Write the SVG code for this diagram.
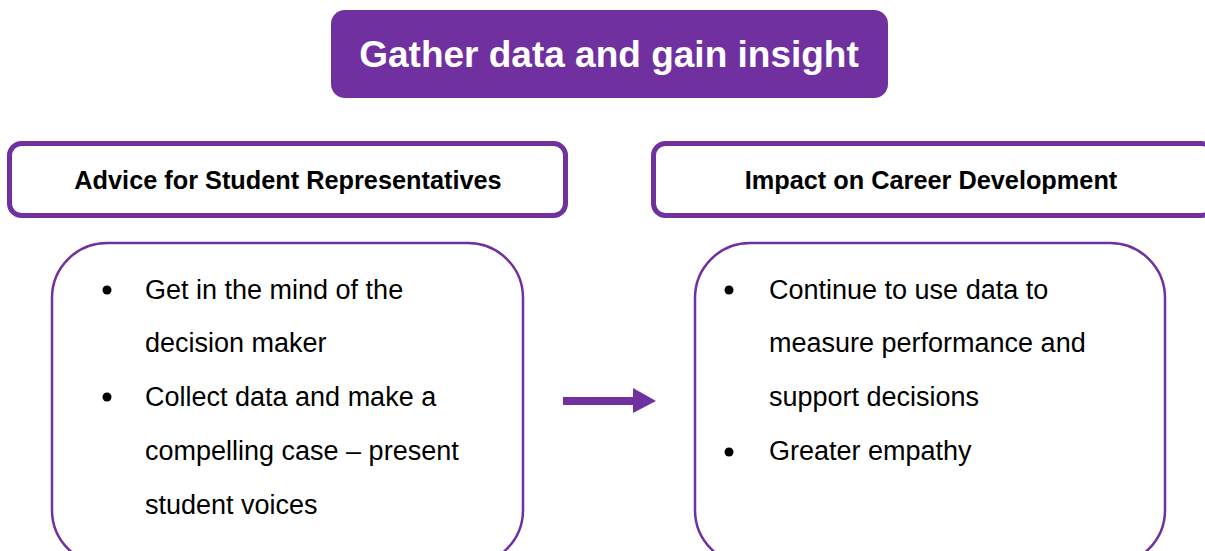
<svg xmlns="http://www.w3.org/2000/svg" width="1205" height="551" viewBox="0 0 1205 551">
  <style>
    .title { font-family: "Liberation Sans", Arial, sans-serif; font-weight: bold; font-size: 37px; fill: #ffffff; }
    .hdr { fill: #ffffff; stroke: #7030A0; stroke-width: 5; }
    .hdrtxt { font-family: "Liberation Sans", Arial, sans-serif; font-weight: bold; font-size: 25.3px; fill: #000000; }
    .body { fill: #ffffff; stroke: #7030A0; stroke-width: 2.5; }
    .txt { font-family: "Liberation Sans", Arial, sans-serif; font-size: 27px; fill: #000000; }
    .bullet { fill: #000000; }
    .conn { fill: #7030A0; stroke: none; }
  </style>
  <rect width="1205" height="551" fill="#ffffff"/>

  <g id="title">
    <rect x="331" y="10" width="557" height="88" rx="14" ry="14" fill="#7030A0"/>
    <text class="title" x="609" y="67" text-anchor="middle">Gather data and gain insight</text>
  </g>

  <g id="header-left">
    <rect class="hdr" x="9.5" y="143.5" width="556" height="72" rx="12" ry="12"/>
    <text class="hdrtxt" x="288" y="189" text-anchor="middle">Advice for Student Representatives</text>
  </g>

  <g id="header-right">
    <rect class="hdr" x="653.5" y="143.5" width="560" height="72" rx="12" ry="12"/>
    <text class="hdrtxt" x="931" y="189" text-anchor="middle">Impact on Career Development</text>
  </g>

  <g id="body-left">
    <rect class="body" x="52" y="243" width="471" height="322" rx="55" ry="55"/>
    <circle class="bullet" cx="107" cy="290" r="4.5"/>
    <circle class="bullet" cx="107" cy="397" r="4.5"/>
    <text class="txt" x="145" y="299">Get in the mind of the</text>
    <text class="txt" x="145" y="352">decision maker</text>
    <text class="txt" x="145" y="406">Collect data and make a</text>
    <text class="txt" x="145" y="460">compelling case – present</text>
    <text class="txt" x="145" y="514">student voices</text>
  </g>

  <g id="body-right">
    <rect class="body" x="695" y="243" width="470" height="322" rx="55" ry="55"/>
    <circle class="bullet" cx="729" cy="290" r="4.5"/>
    <circle class="bullet" cx="729" cy="452" r="4.5"/>
    <text class="txt" x="769" y="299">Continue to use data to</text>
    <text class="txt" x="769" y="352">measure performance and</text>
    <text class="txt" x="769" y="406">support decisions</text>
    <text class="txt" x="769" y="460">Greater empathy</text>
  </g>

  <g id="connectors">
    <path class="conn" d="M563,397 L633,397 L633,388 L656,401 L633,413 L633,405 L563,405 Z"/>
  </g>
</svg>
